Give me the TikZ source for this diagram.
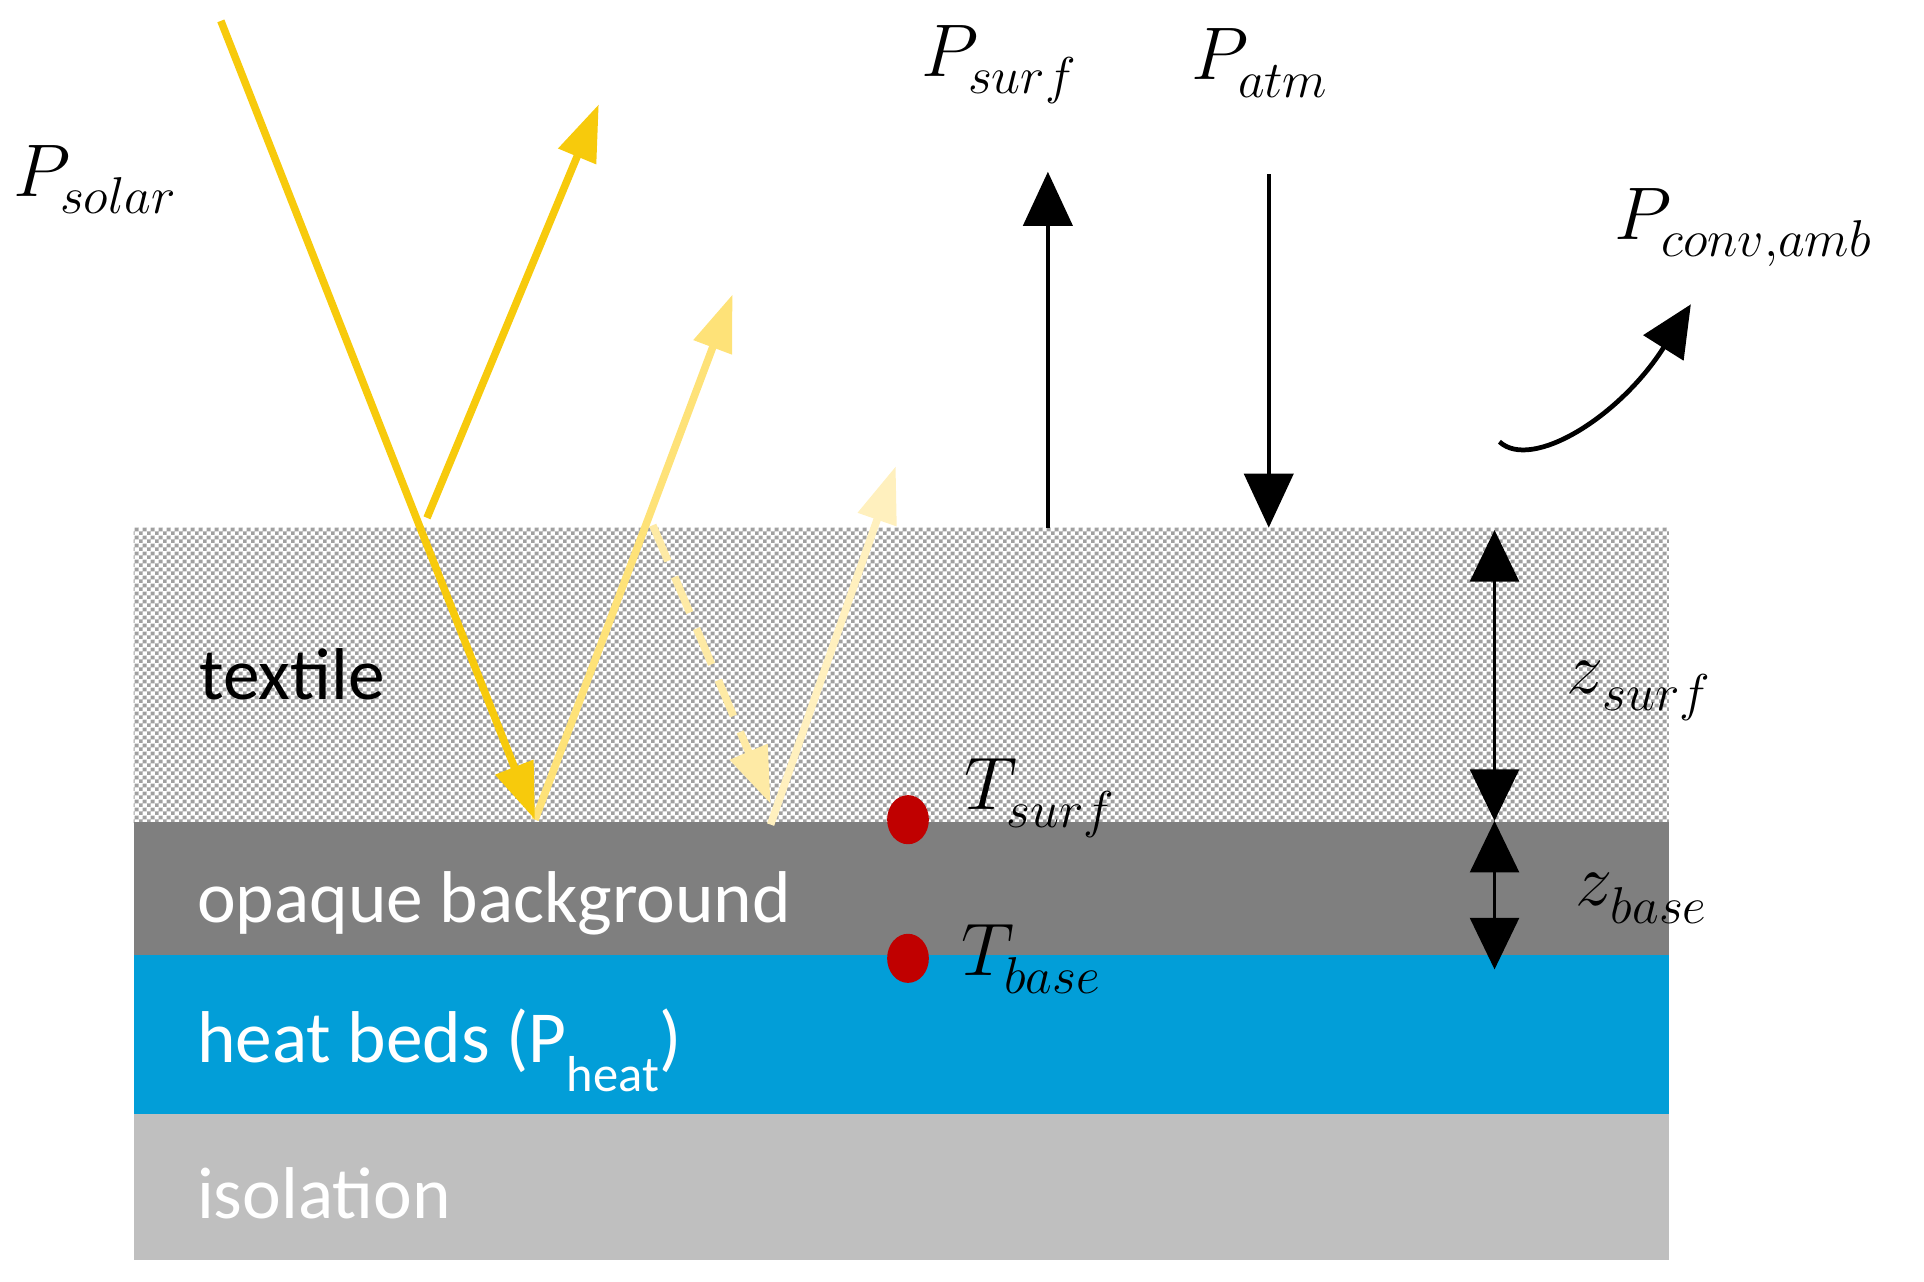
\documentclass[tikz,border=0pt]{standalone}
\usepackage{fontspec}
\setmainfont{Carlito}
\usetikzlibrary{arrows.meta,patterns,shapes.geometric}
\newcommand\msubl[3][-0.14em]{$#2$\kern#1\raisebox{-0.24em}{\fontsize{13.2}{15}\selectfont$#3$}}
\definecolor{sunA}{RGB}{247,202,12}
\definecolor{sunB}{RGB}{254,226,120}
\definecolor{sunC}{RGB}{254,234,165}
\definecolor{sunD}{RGB}{255,240,190}
\definecolor{opaquegray}{RGB}{127,127,127}
\definecolor{heatblue}{RGB}{2,158,216}
\definecolor{isogray}{RGB}{191,191,191}
\definecolor{reddot}{RGB}{192,0,0}
\definecolor{chkgray}{RGB}{160,160,160}
\pgfdeclarepatterninherentlycolored{chk}{\pgfpointorigin}{\pgfqpoint{1.9pt}{1.9pt}}{\pgfqpoint{1.9pt}{1.9pt}}{%
  \pgfsetfillcolor{white}%
  \pgfpathrectangle{\pgfpointorigin}{\pgfqpoint{1.9pt}{1.9pt}}\pgfusepath{fill}%
  \pgfsetfillcolor{chkgray}%
  \pgfpathrectangle{\pgfpointorigin}{\pgfqpoint{0.95pt}{0.95pt}}%
  \pgfpathrectangle{\pgfqpoint{0.95pt}{0.95pt}}{\pgfqpoint{0.95pt}{0.95pt}}\pgfusepath{fill}%
}
\tikzset{
  layertext/.style={anchor=base west, inner sep=0pt, font=\fontsize{17}{20}\selectfont},
  mathlabel/.style={anchor=base west, inner sep=0pt, font=\fontsize{17}{20}\selectfont},
  ray/.style={line width=1.75pt, -{Triangle[width=0.32cm,length=0.46cm]}},
  flux/.style={line width=0.9pt, -{Triangle[width=0.4cm,length=0.44cm]}},
  dim/.style={line width=0.55pt, {Triangle[width=0.4cm,length=0.42cm]}-{Triangle[width=0.4cm,length=0.42cm]}},
  tdot/.style={ellipse, fill=reddot, draw=none, minimum width=0.34cm, minimum height=0.4cm, inner sep=0pt}
}
\begin{document}
\begin{tikzpicture}[x=0.01cm, y=-0.01cm]
\useasboundingbox (0,0) rectangle (1568,1044);
% layers
\fill[pattern=chk] (109,430) rectangle (1360,670);
\fill[opaquegray] (109,670) rectangle (1360,778);
\fill[heatblue] (109,778) rectangle (1360,908);
\fill[isogray] (109,908) rectangle (1360,1027);
% layer labels
\node[layertext, text=black] (ltex) at (162,570) {textile};
\node[layertext, text=white] (lopq) at (160,752) {opaque background};
\node[layertext, text=white] (lheat) at (160,866) {heat beds (P\raisebox{-0.4em}{\fontsize{11.7}{13}\selectfont heat})};
\node[layertext, text=white] (liso) at (160,993) {isolation};
% solar ray coordinates
\coordinate (sIn) at (180,17);
\coordinate (sHit) at (436,668);
\coordinate (rA) at (348,422);
\coordinate (rAend) at (488,85);
\coordinate (rBend) at (597,240);
\coordinate (dS) at (532,428);
\coordinate (dE) at (628,655);
\coordinate (rCs) at (628,672);
\coordinate (rCend) at (730,380);
% rays (lighter first)
\draw[ray, sunD] (rCs) -- (rCend);
\draw[ray, sunC, dash pattern=on 9pt off 4pt] (dS) -- (dE);
\draw[ray, sunB] (sHit) -- (rBend);
\draw[ray, sunA] (rA) -- (rAend);
\draw[ray, sunA] (sIn) -- (sHit);
% long-wave fluxes
\coordinate (psB) at (854,430);
\coordinate (psT) at (854,140);
\coordinate (paT) at (1034,142);
\coordinate (paB) at (1034,430);
\draw[flux] (psB) -- (psT);
\draw[flux] (paT) -- (paB);
\coordinate (cvS) at (1222,360);
\coordinate (cvE) at (1378,248);
\draw[line width=1.1pt, -{Triangle[width=0.38cm,length=0.42cm]}] (cvS) .. controls (1248,384) and (1320,340) .. (cvE);
% dimension arrows
\coordinate (zT) at (1218,432);
\coordinate (zM) at (1218,669);
\coordinate (zB) at (1218,790);
\draw[dim] (zT) -- (zM);
\draw[dim] (zM) -- (zB);
% temperature dots
\node[tdot] (dotS) at (740,668) {};
\node[tdot] (dotB) at (740,781) {};
% math labels
\node[mathlabel] (lsolar) at (10,160) {\msubl{P}{solar}};
\node[mathlabel] (lsurf) at (750,62) {\msubl{P}{surf}};
\node[mathlabel] (latm) at (970,65) {\msubl{P}{atm}};
\node[mathlabel] (lconv) at (1315,195) {\msubl{P}{conv{,}amb}};
\node[mathlabel] (lTs) at (785,660) {\msubl{T}{surf}};
\node[mathlabel] (lTb) at (783,795) {\msubl{T}{base}};
\node[mathlabel] (lzs) at (1276,565) {\msubl[-0.02em]{z}{surf}};
\node[mathlabel] (lzb) at (1283,738) {\msubl[-0.02em]{z}{base}};
\end{tikzpicture}
\end{document}
